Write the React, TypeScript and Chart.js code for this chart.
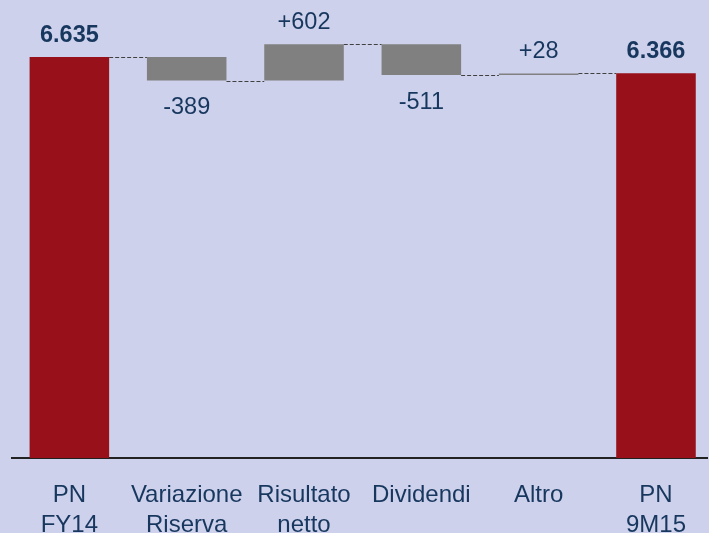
import React, { useEffect, useRef } from "react";
import { Chart, registerables } from "chart.js";

Chart.register(...registerables);

const categories: string[][] = [
  ["PN", "FY14"],
  ["Variazione", "Riserva"],
  ["Risultato", "netto"],
  ["Dividendi"],
  ["Altro"],
  ["PN", "9M15"],
];
const changes = [6635, -389, 602, -511, 28, 6366];
const valueLabels = ["6.635", "-389", "+602", "-511", "+28", "6.366"];
const totalFlags = [true, false, false, false, false, true];

const Y_MIN = 0;
const Y_MAX = 7580;

const BG = "#cdd1eb";
const RED = "#97101a";
const GRAY = "#808080";
const TEXT = "#17375e";
const FONT = "'Liberation Sans', Arial, sans-serif";

function buildRanges() {
  const ranges: number[][] = [];
  const ends: number[] = [];
  let running = 0;
  changes.forEach((v, i) => {
    if (totalFlags[i]) {
      ranges.push([0, v]);
      running = v;
    } else {
      ranges.push([running, running + v]);
      running += v;
    }
    ends.push(running);
  });
  return { ranges, ends };
}

export default function App() {
  const canvasRef = useRef<HTMLCanvasElement | null>(null);

  useEffect(() => {
    if (!canvasRef.current) return;
    const { ranges, ends } = buildRanges();

    const overlay = {
      id: "waterfallOverlay",
      afterDatasetsDraw(chart: any) {
        const ctx = chart.ctx;
        const meta = chart.getDatasetMeta(0);
        const yScale = chart.scales.y;
        ctx.save();
        ctx.setLineDash([4, 2]);
        ctx.strokeStyle = "#404040";
        ctx.lineWidth = 1;
        for (let i = 0; i < meta.data.length - 1; i++) {
          const el = meta.data[i];
          const nx = meta.data[i + 1];
          const y = Math.round(yScale.getPixelForValue(ends[i])) + 0.5;
          ctx.beginPath();
          ctx.moveTo(el.x + el.width / 2, y);
          ctx.lineTo(nx.x - nx.width / 2, y);
          ctx.stroke();
        }
        ctx.setLineDash([]);
        ctx.fillStyle = TEXT;
        ctx.textAlign = "center";
        ctx.textBaseline = "alphabetic";
        meta.data.forEach((el: any, i: number) => {
          const top = Math.min(el.y, el.base);
          const bottom = Math.max(el.y, el.base);
          ctx.font = (totalFlags[i] ? "bold " : "") + "23.5px " + FONT;
          if (totalFlags[i] || changes[i] >= 0) {
            ctx.fillText(valueLabels[i], el.x, top - 15.5);
          } else {
            ctx.fillText(valueLabels[i], el.x, bottom + 33.5);
          }
        });
        ctx.restore();
      },
    };

    const chart = new Chart(canvasRef.current, {
      type: "bar",
      data: {
        datasets: [
          {
            data: ranges.map((r, i) => ({ x: i, y: r })) as any,
            backgroundColor: totalFlags.map((t) => (t ? RED : GRAY)),
            borderWidth: 0,
            barPercentage: 0.678,
            categoryPercentage: 1,
          },
        ],
      },
      options: {
        animation: false,
        responsive: true,
        maintainAspectRatio: false,
        layout: { padding: { left: 12, right: 0, top: 0, bottom: 0 } },
        plugins: { legend: { display: false }, tooltip: { enabled: false } },
        scales: {
          x: {
            type: "linear",
            offset: false,
            min: -0.489,
            max: 5.438,
            afterBuildTicks: (s: any) => {
              s.ticks = categories.map((_, i) => ({ value: i }));
            },
            afterFit: (s: any) => {
              s.height = 75;
            },
            grid: { display: false, drawTicks: false },
            border: { display: true, color: "#222222", width: 2 },
            ticks: {
              autoSkip: false,
              maxRotation: 0,
              minRotation: 0,
              padding: 23,
              color: TEXT,
              font: { family: FONT, size: 24, lineHeight: 1.22 },
              callback: (_v: any, idx: number) => categories[idx],
            },
          },
          y: {
            display: false,
            min: Y_MIN,
            max: Y_MAX,
          },
        },
      },
      plugins: [overlay],
    });
    return () => chart.destroy();
  }, []);

  return (
    <div
      style={{
        position: "fixed",
        left: 0,
        top: 0,
        width: 709,
        height: 533,
        background: BG,
      }}
    >
      <canvas ref={canvasRef} />
    </div>
  );
}
